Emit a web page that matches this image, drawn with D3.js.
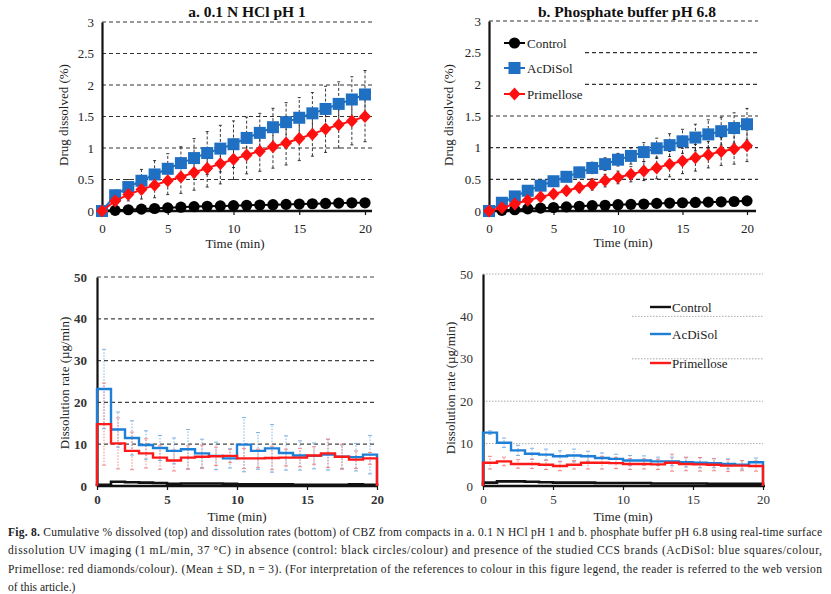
<!DOCTYPE html>
<html><head><meta charset="utf-8">
<script src="https://cdn.jsdelivr.net/npm/d3@7"></script>
<style>
body{margin:0;background:#fff;}
svg{display:block;}
svg text{font-family:"Times New Roman","Liberation Serif",Times,serif !important;}
</style></head>
<body><svg id="c" width="831" height="594"></svg>
<script>
// ---------- DATA ----------
const timePoints = d3.range(0, 21); // 0..20 min
const seriesNames = ["Control", "AcDiSol", "Primellose"];

// Panel a: 0.1 N HCl pH 1 (cumulative % dissolved)
const aControl = [0,0.01,0.02,0.03,0.04,0.05,0.06,0.07,0.075,0.08,0.085,0.09,0.095,0.10,0.105,0.11,0.115,0.12,0.125,0.13,0.13];
const aAcDiSol = [0,0.25,0.38,0.48,0.58,0.67,0.76,0.84,0.92,0.99,1.06,1.16,1.24,1.33,1.41,1.48,1.55,1.62,1.70,1.77,1.85];
const aAcDiSolSD = [0,0.08,0.12,0.18,0.22,0.24,0.26,0.31,0.34,0.37,0.37,0.33,0.31,0.30,0.31,0.32,0.33,0.36,0.35,0.36,0.38];
const aPrimellose = [0,0.16,0.26,0.34,0.41,0.48,0.54,0.61,0.68,0.75,0.82,0.89,0.95,1.02,1.08,1.15,1.22,1.30,1.37,1.43,1.50];
const aPrimelloseSD = [0,0.06,0.10,0.15,0.20,0.22,0.26,0.28,0.30,0.32,0.32,0.30,0.32,0.34,0.35,0.35,0.35,0.37,0.37,0.38,0.40];

// Panel b: phosphate buffer pH 6.8
const bControl = [0,0.01,0.02,0.035,0.045,0.055,0.065,0.075,0.085,0.09,0.10,0.105,0.11,0.12,0.125,0.13,0.135,0.14,0.145,0.15,0.16];
const bAcDiSol = [0,0.13,0.23,0.32,0.40,0.47,0.54,0.61,0.68,0.74,0.81,0.87,0.93,0.99,1.04,1.10,1.16,1.21,1.26,1.31,1.37];
const bAcDiSolSD = [0,0.02,0.03,0.04,0.05,0.06,0.07,0.08,0.09,0.10,0.10,0.13,0.15,0.16,0.18,0.19,0.21,0.23,0.22,0.24,0.25];
const bPrimellose = [0,0.05,0.11,0.17,0.22,0.27,0.32,0.37,0.42,0.48,0.53,0.58,0.63,0.68,0.74,0.79,0.84,0.89,0.94,0.98,1.03];
const bPrimelloseSD = [0,0.02,0.03,0.04,0.05,0.06,0.07,0.08,0.09,0.10,0.10,0.12,0.15,0.17,0.20,0.20,0.21,0.21,0.22,0.24,0.25];

// Dissolution rates (µg/min), one value per 1-min interval (0-1 ... 19-20)
const cControl = [0.3,1.0,0.9,0.8,0.7,0.5,0.6,0.6,0.6,0.5,0.4,0.4,0.4,0.4,0.3,0.3,0.3,0.3,0.4,0.3];
const cAcDiSol = [23.2,13.5,11.5,9.8,9.1,8.4,8.8,7.8,7.2,6.6,9.9,8.4,9.0,7.9,7.3,7.2,7.5,7.0,6.9,7.5];
const cAcDiSolSD = [9.5,4.2,4.1,3.4,3.0,3.1,4.7,3.4,3.3,2.3,6.5,4.4,5.7,4.1,3.5,3.1,3.7,2.8,3.3,4.6];
const cPrimellose = [14.8,10.2,8.4,7.8,6.8,6.1,6.8,7.0,7.1,7.2,6.6,6.6,6.7,6.8,6.8,7.3,7.8,7.0,6.3,6.6];
const cPrimelloseSD = [9.8,6.1,4.5,3.5,2.8,2.5,2.8,2.8,2.2,1.6,2.4,2.2,2.8,2.0,2.2,2.1,3.4,3.0,2.1,1.4];

const dControl = [0.8,1.1,1.1,1.0,0.9,0.8,0.8,0.8,0.7,0.7,0.7,0.7,0.6,0.6,0.6,0.6,0.5,0.5,0.5,0.5];
const dAcDiSol = [12.6,10.2,8.4,7.6,7.4,7.0,7.2,7.0,6.6,6.4,6.0,6.0,5.8,5.8,5.6,5.5,5.4,5.2,5.0,5.6];
const dAcDiSolSD = [0.4,1.1,1.2,1.3,1.3,1.3,1.5,1.2,1.2,1.1,1.2,1.1,1.0,1.0,1.1,1.2,1.1,1.2,1.0,1.0];
const dPrimellose = [5.5,5.8,5.2,5.2,5.0,4.7,5.0,5.5,5.5,5.4,5.2,5.2,5.1,5.5,5.2,5.1,5.0,4.8,4.8,4.7];
const dPrimelloseSD = [1.5,1.0,1.0,1.1,1.1,1.1,1.0,1.5,1.5,1.3,1.3,1.2,1.2,2.0,1.6,1.6,1.4,1.4,1.2,1.2];

const topYTicks = [0,0.5,1,1.5,2,2.5,3];
const bottomYTicks = [0,10,20,30,40,50];
const xTicks = [0,5,10,15,20];

// ---------- STYLE ----------
const C_BLACK = "#000", C_BLUE = "#1f6fc2", C_RED = "#ff1010";
const C_BLUE2 = "#1e7fd6", C_RED2 = "#ff1a1a";
const svg = d3.select("#c");

function axes(g, x, y, yTicks, opt) {
  yTicks.filter(t => t > 0).forEach(t => {
    const x0 = (opt.gridStart && opt.gridStart[t] !== undefined) ? opt.gridStart[t] : x.range()[0];
    g.append("line").attr("x1", x0).attr("x2", opt.gridEnd)
      .attr("y1", y(t)).attr("y2", y(t))
      .attr("stroke", opt.gridColor).attr("stroke-width", opt.gridWidth)
      .attr("stroke-dasharray", opt.gridDash);
  });
  const ya = g.append("g").attr("transform", `translate(${x.range()[0]},0)`)
    .call(d3.axisLeft(y).tickValues(yTicks).tickSize(0).tickPadding(opt.yPad).tickFormat(d3.format("~g")));
  ya.select(".domain").attr("stroke", "#111").attr("stroke-width", 2.2);
  ya.selectAll("text").attr("font-size", opt.fs).attr("fill", opt.tickColor)
    .attr("font-weight", opt.bold ? "bold" : "normal");
  const xa = g.append("g").attr("transform", `translate(0,${y(0)})`)
    .call(d3.axisBottom(x).tickValues(xTicks).tickSize(4).tickPadding(opt.xPad).tickSizeOuter(0).tickFormat(d3.format("d")));
  xa.select(".domain").attr("d", `M${x.range()[0]},0H${opt.axisEnd}`).attr("stroke", "#111").attr("stroke-width", 2.6);
  xa.selectAll(".tick line").attr("stroke", "#111").attr("stroke-width", 1.2);
  xa.selectAll("text").attr("font-size", opt.fs).attr("fill", opt.tickColor)
    .attr("font-weight", opt.bold ? "bold" : "normal");
}

function titleAndLabels(opt) {
  if (opt.title) svg.append("text").attr("x", opt.titleX).attr("y", 17).attr("text-anchor", "middle")
    .attr("font-size", 15.5).attr("font-weight", "bold").attr("fill", "#111").text(opt.title);
  svg.append("text").attr("transform", `translate(${opt.ylx},${opt.yly}) rotate(-90)`)
    .attr("text-anchor", "middle").attr("font-size", 13).attr("fill", "#222").text(opt.ylabel);
  svg.append("text").attr("x", opt.xlx).attr("y", opt.xly).attr("text-anchor", "middle")
    .attr("font-size", 13).attr("fill", "#222").text("Time (min)");
}

function marker(g, type, cx, cy, color) {
  if (type === "circle") g.append("circle").attr("cx", cx).attr("cy", cy).attr("r", 5.6).attr("fill", color);
  else if (type === "square") g.append("rect").attr("x", cx - 6).attr("y", cy - 6).attr("width", 12).attr("height", 12).attr("fill", color);
  else g.append("path").attr("d", `M${cx},${cy - 6.5}L${cx + 6},${cy}L${cx},${cy + 6.5}L${cx - 6},${cy}Z`).attr("fill", color);
}

function cumulativePanel(xr, yr, ctrl, acd, acdSD, pri, priSD, opt) {
  const x = d3.scaleLinear().domain([0, 20]).range(xr);
  const y = d3.scaleLinear().domain([0, 3]).range(yr);
  const g = svg.append("g");
  axes(g, x, y, topYTicks, {gridEnd: opt.gridEnd, axisEnd: opt.axisEnd, gridColor: "#333", gridWidth: 1.1, gridDash: "4,3",
    gridStart: opt.gridStart, fs: 13, yPad: 8, xPad: 9, tickColor: "#222", bold: false});
  const eb = g.append("g").attr("stroke", "#222").attr("stroke-width", 0.9);
  [[acd, acdSD], [pri, priSD]].forEach(([v, sd]) => {
    timePoints.forEach((t, i) => {
      if (!sd[i]) return;
      const xx = x(t);
      eb.append("line").attr("x1", xx).attr("x2", xx).attr("y1", y(v[i] - sd[i])).attr("y2", y(v[i] + sd[i]))
        .attr("stroke-dasharray", "3,2");
      [v[i] - sd[i], v[i] + sd[i]].forEach(e => eb.append("line").attr("x1", xx - 1.5).attr("x2", xx + 1.5).attr("y1", y(e)).attr("y2", y(e)));
    });
  });
  const line = d3.line().x((d, i) => x(timePoints[i])).y(d => y(d));
  [[ctrl, C_BLACK, "circle"], [acd, C_BLUE, "square"], [pri, C_RED, "diamond"]].forEach(([v, col, m]) => {
    g.append("path").datum(v).attr("d", line).attr("fill", "none").attr("stroke", col).attr("stroke-width", 2);
    v.forEach((d, i) => marker(g, m, x(timePoints[i]), y(d), col));
  });
  return {x, y, g};
}

function ratePanel(xr, yr, ctrl, acd, acdSD, pri, priSD, opt) {
  const x = d3.scaleLinear().domain([0, 20]).range(xr);
  const y = d3.scaleLinear().domain([0, 50]).range(yr);
  const g = svg.append("g");
  axes(g, x, y, bottomYTicks, {gridEnd: opt.gridEnd, axisEnd: opt.axisEnd, gridColor: opt.gridColor, gridWidth: opt.gridWidth,
    gridDash: opt.gridDash, gridStart: opt.gridStart, fs: 13, yPad: 10, xPad: 5, tickColor: opt.tickColor, bold: opt.bold});
  [[acd, acdSD, "#7fb2e5"], [pri, priSD, "#f08a8a"]].forEach(([v, sd, col]) => {
    const eb = g.append("g").attr("stroke", col).attr("stroke-width", 1);
    v.forEach((d, i) => {
      const xx = x(i + 0.5);
      eb.append("line").attr("x1", xx).attr("x2", xx).attr("y1", y(Math.max(0, d - sd[i]))).attr("y2", y(d + sd[i])).attr("stroke-dasharray", "1.5,1.5");
      [Math.max(0, d - sd[i]), d + sd[i]].forEach(e => eb.append("line").attr("x1", xx - 2).attr("x2", xx + 2).attr("y1", y(e)).attr("y2", y(e)));
    });
  });
  const step = v => {
    const pts = [[0, 0]];
    v.forEach((d, i) => { pts.push([i, d]); pts.push([i + 1, d]); });
    pts.push([20, 0]);
    return d3.line().x(p => x(p[0])).y(p => y(p[1]))(pts);
  };
  [[ctrl, "#111", 2.6], [acd, C_BLUE2, 2.4], [pri, C_RED2, 2.4]].forEach(([v, col, w]) => {
    g.append("path").attr("d", step(v)).attr("fill", "none").attr("stroke", col).attr("stroke-width", w);
  });
  return {x, y, g};
}

// ---------- PANELS ----------
cumulativePanel([102, 365], [211, 22], aControl, aAcDiSol, aAcDiSolSD, aPrimellose, aPrimelloseSD,
  {gridEnd: 375, axisEnd: 372});
titleAndLabels({title: "a. 0.1 N HCl pH 1", titleX: 247, ylx: 68, yly: 115, ylabel: "Drug dissolved (%)", xlx: 235, xly: 248});

cumulativePanel([489, 747], [211, 21], bControl, bAcDiSol, bAcDiSolSD, bPrimellose, bPrimelloseSD,
  {gridEnd: 758, axisEnd: 756, gridStart: {2: 585, 2.5: 585}});
titleAndLabels({title: "b. Phosphate buffer pH 6.8", titleX: 627, ylx: 453, yly: 115, ylabel: "Drug dissolved (%)", xlx: 623, xly: 247});

const legB = svg.append("g");
[["Control", C_BLACK, "circle", 43], ["AcDiSol", C_BLUE, "square", 68], ["Primellose", C_RED, "diamond", 94]].forEach(([name, col, m, yy]) => {
  legB.append("line").attr("x1", 504).attr("x2", 525).attr("y1", yy).attr("y2", yy).attr("stroke", col).attr("stroke-width", 2);
  marker(legB, m, 514.5, yy, col);
  legB.append("text").attr("x", 527).attr("y", yy + 4.5).attr("font-size", 13).attr("fill", "#222").text(name);
});

ratePanel([97, 377], [486, 277], cControl, cAcDiSol, cAcDiSolSD, cPrimellose, cPrimelloseSD,
  {gridEnd: 376, axisEnd: 378, gridColor: "#444", gridWidth: 1.2, gridDash: "4,3", tickColor: "#333", bold: true});
titleAndLabels({ylx: 69, yly: 383, ylabel: "Dissolution rate (µg/min)", xlx: 237, xly: 521});

ratePanel([483, 763], [486, 274], dControl, dAcDiSol, dAcDiSolSD, dPrimellose, dPrimelloseSD,
  {gridEnd: 763, axisEnd: 765, gridColor: "#aaa", gridWidth: 1, gridDash: "1.5,1.5", tickColor: "#333", bold: false,
   gridStart: {30: 632, 40: 632}});
titleAndLabels({ylx: 455, yly: 388, ylabel: "Dissolution rate (µg/min)", xlx: 623, xly: 521});

const legD = svg.append("g");
[["Control", "#111", 307], ["AcDiSol", C_BLUE2, 334], ["Primellose", C_RED2, 363]].forEach(([name, col, yy]) => {
  legD.append("line").attr("x1", 650).attr("x2", 671).attr("y1", yy).attr("y2", yy).attr("stroke", col).attr("stroke-width", 2.4);
  legD.append("text").attr("x", 672).attr("y", yy + 4.5).attr("font-size", 13).attr("fill", "#222").text(name);
});

// ---------- CAPTION ----------
const cap = svg.append("g").attr("font-size", 11.5).attr("fill", "#222");
const capLines = [
  [[{t: "Fig. 8.", b: true}, {t: " Cumulative % dissolved (top) and dissolution rates (bottom) of CBZ from compacts in a. 0.1 N HCl pH 1 and b. phosphate buffer pH 6.8 using real-time surface"}], 536, true],
  [[{t: "dissolution UV imaging (1 mL/min, 37 °C) in absence (control: black circles/colour) and presence of the studied CCS brands (AcDiSol: blue squares/colour,"}], 554, true],
  [[{t: "Primellose: red diamonds/colour). (Mean \u00b1 SD, n = 3). (For interpretation of the references to colour in this figure legend, the reader is referred to the web version"}], 573, true],
  [[{t: "of this article.)"}], 591, false]
];
capLines.forEach(([parts, yy, just]) => {
  const t = cap.append("text").attr("x", 8).attr("y", yy);
  parts.forEach(p => t.append("tspan").attr("font-weight", p.b ? "bold" : "normal").text(p.t));
  if (just) t.attr("textLength", 814).attr("lengthAdjust", "spacing");
});
</script></body></html>
